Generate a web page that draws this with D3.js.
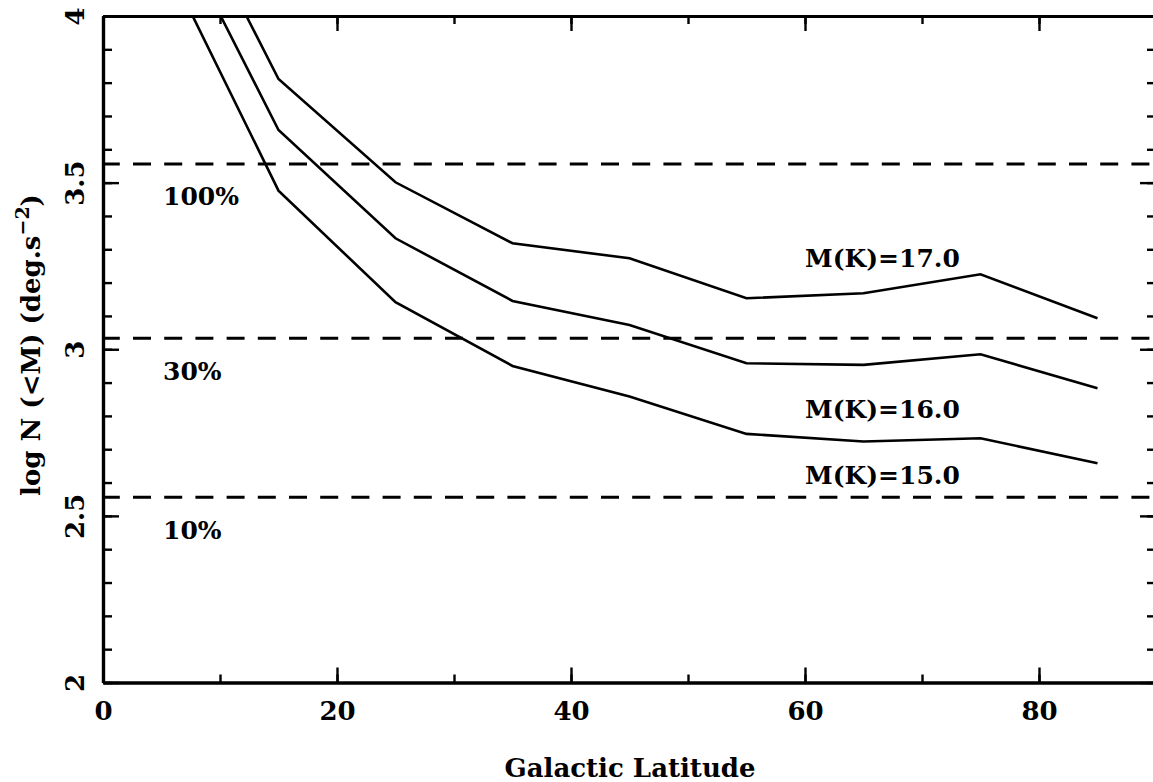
<!DOCTYPE html>
<html>
<head>
<meta charset="utf-8">
<script src="https://cdn.jsdelivr.net/npm/d3@7"></script>
<style>
  body { margin: 0; background: #fff; }
  svg { display: block; }
  text { font-family: "DejaVu Serif", serif; font-weight: bold; fill: #000; }
</style>
</head>
<body>
<svg width="1153" height="782"></svg>
<script>
// data
const latitude = [5, 15, 25, 35, 45, 55, 65, 75, 85];
const mk15 = [4.19, 3.476, 3.141, 2.950, 2.858, 2.746, 2.723, 2.733, 2.658];
const mk16 = [4.35, 3.658, 3.333, 3.145, 3.073, 2.958, 2.953, 2.985, 2.883];
const mk17 = [4.50, 3.811, 3.501, 3.318, 3.273, 3.153, 3.168, 3.225, 3.093];
const seriesNames = ["M(K)=15.0", "M(K)=16.0", "M(K)=17.0"];
const completeness = ["100%", "30%", "10%"];
const completenessLevel = [3.556, 3.033, 2.556];
const xMajorTicks = [0, 20, 40, 60, 80];
const yMajorTicks = [2, 2.5, 3, 3.5, 4];

const svg = d3.select("svg");

const x = d3.scaleLinear().domain([0, 90]).range([103, 1156]);
const y = d3.scaleLinear().domain([2, 4]).range([682.5, 16]);

const xMinor = d3.range(0, 91, 10);
const yMinor = d3.range(20, 41, 1).map(d => d / 10);

// clip for the curves
svg.append("clipPath").attr("id", "plot")
    .append("rect")
    .attr("x", x(0)).attr("y", y(4))
    .attr("width", x(90) - x(0)).attr("height", y(2) - y(4));

// dashed completeness levels
svg.append("g").selectAll("line")
    .data(completenessLevel)
    .join("line")
    .attr("x1", x(0)).attr("x2", x(90))
    .attr("y1", d => y(d)).attr("y2", d => y(d))
    .attr("stroke", "#000")
    .attr("stroke-width", 3)
    .attr("stroke-dasharray", "18,13.2")
    .attr("stroke-dashoffset", 1.2);

svg.append("g").selectAll("text")
    .data(completeness)
    .join("text")
    .attr("x", 163)
    .attr("y", (d, i) => y(completenessLevel[i]) + 41.5)
    .attr("font-size", 25)
    .text(d => d);

// curves
const line = d3.line().x((d, i) => x(latitude[i])).y(d => y(d));
svg.append("g").attr("clip-path", "url(#plot)")
    .selectAll("path")
    .data([mk15, mk16, mk17])
    .join("path")
    .attr("d", line)
    .attr("fill", "none")
    .attr("stroke", "#000")
    .attr("stroke-width", 2.6)
    .attr("stroke-linejoin", "miter");

// series labels
const labelBase = [484, 418, 267];
svg.append("g").selectAll("text")
    .data(seriesNames)
    .join("text")
    .attr("x", 805)
    .attr("y", (d, i) => labelBase[i])
    .attr("font-size", 25)
    .text(d => d);

// axes (ticks point inwards)
function styleAxis(g) {
    g.select(".domain").attr("stroke-width", 3.2);
    g.selectAll(".tick line").attr("stroke-width", 2.4);
}

// bottom
svg.append("g").attr("transform", `translate(0,${y(2)})`)
    .call(d3.axisBottom(x).tickValues(xMinor).tickSize(-8).tickSizeOuter(0).tickFormat(""))
    .call(styleAxis);
svg.append("g").attr("transform", `translate(0,${y(2)})`)
    .call(d3.axisBottom(x).tickValues(xMajorTicks).tickSize(-15).tickSizeOuter(0))
    .call(styleAxis)
    .call(g => g.selectAll("text")
        .attr("font-size", 26).attr("font-family", "DejaVu Serif")
        .attr("font-weight", "bold").attr("dy", 0).attr("y", 37));

// top
svg.append("g").attr("transform", `translate(0,${y(4)})`)
    .call(d3.axisTop(x).tickValues(xMinor).tickSize(-8).tickSizeOuter(0).tickFormat(""))
    .call(styleAxis);
svg.append("g").attr("transform", `translate(0,${y(4)})`)
    .call(d3.axisTop(x).tickValues(xMajorTicks).tickSize(-15).tickSizeOuter(0).tickFormat(""))
    .call(styleAxis);

// left
svg.append("g").attr("transform", `translate(${x(0)},0)`)
    .call(d3.axisLeft(y).tickValues(yMinor).tickSize(-9).tickSizeOuter(0).tickFormat(""))
    .call(styleAxis);
svg.append("g").attr("transform", `translate(${x(0)},0)`)
    .call(d3.axisLeft(y).tickValues(yMajorTicks).tickSize(-16).tickSizeOuter(0).tickFormat(d3.format("")))
    .call(styleAxis)
    .call(g => g.selectAll("text")
        .attr("font-size", 26).attr("font-family", "DejaVu Serif")
        .attr("font-weight", "bold")
        .attr("x", 0).attr("dy", 0)
        .attr("text-anchor", "middle")
        .attr("transform", "translate(-19,0) rotate(-90)"));

// right
svg.append("g").attr("transform", `translate(${x(90)},0)`)
    .call(d3.axisRight(y).tickValues(yMinor).tickSize(-9).tickSizeOuter(0).tickFormat(""))
    .call(styleAxis);
svg.append("g").attr("transform", `translate(${x(90)},0)`)
    .call(d3.axisRight(y).tickValues(yMajorTicks).tickSize(-16).tickSizeOuter(0).tickFormat(""))
    .call(styleAxis);

// axis titles
svg.append("text")
    .attr("x", 630).attr("y", 777)
    .attr("text-anchor", "middle")
    .attr("font-size", 26)
    .text("Galactic Latitude");

const yt = svg.append("text")
    .attr("transform", "translate(40,345) rotate(-90)")
    .attr("text-anchor", "middle")
    .attr("font-size", 26);
yt.append("tspan").text("log N (<M) (deg.s");
yt.append("tspan").attr("font-size", 19).attr("dy", -11).text("\u22122");
yt.append("tspan").attr("dy", 11).text(")");
</script>
</body>
</html>
